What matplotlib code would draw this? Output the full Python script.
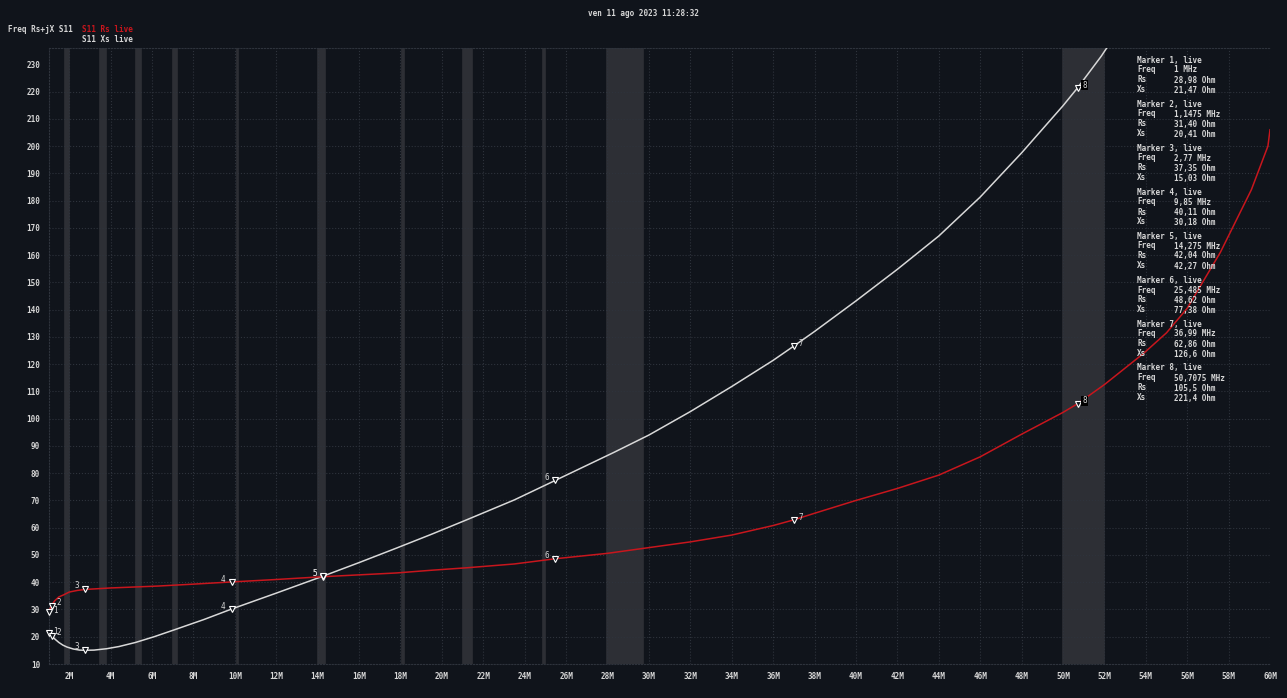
import numpy as np
import matplotlib.pyplot as plt

W, H = 1287, 698
BG = '#10141b'
GRID = '#2e333c'
BAND = '#2d2f35'
TXT = '#d6d6d6'
RED = '#c8161d'
XSC = '#d8d8d8'

# sweep readings (MHz, Ohm)
freq_rs = [1.0, 1.1475, 1.3, 1.5, 1.74, 2.0, 2.4, 2.77, 4.0, 6.3, 8.0, 9.85, 12.0,
           14.275, 16.0, 17.8, 19.5, 21.2, 23.5, 25.485, 28.0, 30.0, 32.0, 34.0,
           36.0, 36.99, 38.0, 40.0, 42.0, 44.0, 46.0, 48.0, 50.0, 50.7075, 52.0,
           53.9, 55.0, 56.0, 57.6, 59.1, 59.9, 60.0]
rs = [28.98, 31.40, 33.2, 34.6, 35.4, 36.4, 37.0, 37.35, 37.9, 38.6, 39.3, 40.11, 41.0,
      42.04, 42.7, 43.4, 44.4, 45.3, 46.7, 48.62, 50.6, 52.7, 54.8, 57.3,
      60.8, 62.86, 65.3, 70.0, 74.4, 79.3, 86.0, 94.3, 102.3, 105.5, 112.5,
      124.0, 131.5, 140.5, 161.0, 184.0, 200.0, 206.0]

freq_xs = [1.0, 1.1475, 1.3, 1.5, 1.7, 1.9, 2.2, 2.5, 2.77, 3.2, 3.8, 4.4, 5.2, 6.1,
           7.1, 8.5, 9.85, 12.0, 14.275, 16.0, 17.8, 19.5, 21.2, 23.5, 25.485,
           28.3, 30.0, 32.0, 34.0, 36.0, 36.99, 38.0, 40.0, 42.0, 44.0, 46.0,
           48.0, 50.0, 50.7075, 51.85, 52.2]
xs = [21.47, 20.41, 19.2, 17.9, 16.9, 16.2, 15.5, 15.1, 15.03, 15.1, 15.6, 16.4, 17.9, 20.0,
      22.6, 26.3, 30.18, 36.0, 42.27, 47.2, 52.5, 57.6, 62.9, 70.2, 77.38,
      87.6, 94.0, 102.6, 111.8, 121.4, 126.6, 132.0, 143.2, 154.8, 167.0, 181.3,
      197.5, 214.8, 221.4, 233.0, 237.0]

# marker table
mk_num = [1, 2, 3, 4, 5, 6, 7, 8]
mk_freq = ['1 MHz', '1,1475 MHz', '2,77 MHz', '9,85 MHz', '14,275 MHz',
           '25,485 MHz', '36,99 MHz', '50,7075 MHz']
mk_f = [1.0, 1.1475, 2.77, 9.85, 14.275, 25.485, 36.99, 50.7075]
mk_rs = [28.98, 31.40, 37.35, 40.11, 42.04, 48.62, 62.86, 105.5]
mk_xs = [21.47, 20.41, 15.03, 30.18, 42.27, 77.38, 126.6, 221.4]
mk_rs_txt = ['28,98 Ohm', '31,40 Ohm', '37,35 Ohm', '40,11 Ohm', '42,04 Ohm',
             '48,62 Ohm', '62,86 Ohm', '105,5 Ohm']
mk_xs_txt = ['21,47 Ohm', '20,41 Ohm', '15,03 Ohm', '30,18 Ohm', '42,27 Ohm',
             '77,38 Ohm', '126,6 Ohm', '221,4 Ohm']

# ham bands (MHz)
band_lo = [1.81, 3.5, 5.25, 7.0, 10.1, 14.0, 18.068, 21.0, 24.89, 28.0, 50.0]
band_hi = [2.0, 3.8, 5.45, 7.2, 10.15, 14.35, 18.168, 21.45, 24.99, 29.7, 52.0]

xticks = list(range(2, 61, 2))
yticks = list(range(10, 231, 10))

plt.rcParams['font.family'] = 'DejaVu Sans Mono'
fig = plt.figure(figsize=(W / 100, H / 100), dpi=100, facecolor=BG)
ax = fig.add_axes([48.5 / W, 1 - 664 / H, (1270 - 48.5) / W, (664 - 48) / H])
ax.set_facecolor(BG)

for lo, hi in zip(band_lo, band_hi):
    ax.axvspan(lo, hi, color=BAND, lw=1.2, zorder=0)

ax.set_xticks(xticks)
ax.set_xticklabels(['%dM' % t for t in xticks])
ax.set_yticks(yticks)
ax.tick_params(colors=TXT, labelsize=5.5, length=0, pad=6)
for lab in ax.get_xticklabels() + ax.get_yticklabels():
    lab.set_fontweight('bold')
ax.grid(True, color=GRID, ls=':', lw=0.8, zorder=1)
ax.get_ygridlines()[-1].set_visible(False)
for s in ax.spines.values():
    s.set_color(GRID)
    s.set_linestyle(':')
    s.set_linewidth(0.8)
ax.spines['right'].set_visible(False)

ax.plot(freq_xs, xs, color=XSC, lw=1.1, zorder=3)
ax.plot(freq_rs, rs, color=RED, lw=1.1, zorder=3)
ax.set_ylim(10, 236)
ax.set_xlim(1, 60)

# marker triangles and numbers
offs = {1: (5, 1), 2: (5, 2), 3: (-6, 3), 4: (-6, 2), 5: (-6, 2), 6: (-6, 2),
        7: (5, 2), 8: (5, 2)}
for n, f, r, x in zip(mk_num, mk_f, mk_rs, mk_xs):
    for v in (r, x):
        ax.plot(f, v, marker='v', ms=4, mfc=BG, mec='white', mew=0.8, zorder=5,
                clip_on=False)
        dx, dy = offs[n]
        box = dict(boxstyle='square,pad=0.1', fc='black', ec='none') if n == 8 else None
        ax.annotate(str(n), (f, v), xytext=(dx, dy), textcoords='offset points',
                    ha='center', va='center', fontsize=5.5, color=TXT,
                    bbox=box, zorder=6)

def ftxt(px, py, s, **kw):
    kw.setdefault('color', TXT)
    kw.setdefault('fontsize', 5.5)
    kw.setdefault('fontweight', 'bold')
    fig.text(px / W, 1 - py / H, s, va='center', **kw)

ftxt(643, 13, 'ven 11 ago 2023 11:28:32', ha='center')
ftxt(8, 29, 'Freq Rs+jX S11')
ftxt(82, 29, 'S11 Rs live', color=RED)
ftxt(82, 39, 'S11 Xs live')

for i, n in enumerate(mk_num):
    y0 = 60 + 44 * i
    ftxt(1137, y0, 'Marker %d, live' % n)
    ftxt(1137, y0 + 10, 'Freq')
    ftxt(1174, y0 + 10, mk_freq[i])
    ftxt(1137, y0 + 20, 'Rs')
    ftxt(1174, y0 + 20, mk_rs_txt[i])
    ftxt(1137, y0 + 30, 'Xs')
    ftxt(1174, y0 + 30, mk_xs_txt[i])

fig.savefig('out.png', dpi=100, facecolor=BG)
